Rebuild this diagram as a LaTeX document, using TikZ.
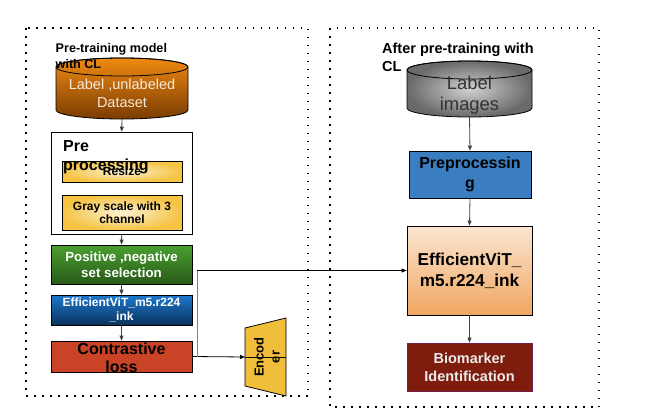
\documentclass[tikz,border=0pt]{standalone}
\usepackage{fontspec}
\setmainfont{Liberation Sans}
\usetikzlibrary{arrows.meta}

\definecolor{orangetop}{HTML}{EF8A12}
\definecolor{orangebot}{HTML}{7A3C02}
\definecolor{creamin}{HTML}{FCF1D2}
\definecolor{creamout}{HTML}{F5C445}
\definecolor{greentop}{HTML}{4A9F30}
\definecolor{greenbot}{HTML}{285A19}
\definecolor{bluetop}{HTML}{1C77CE}
\definecolor{bluebot}{HTML}{0A335C}
\definecolor{lossred}{HTML}{CA4327}
\definecolor{encyellow}{HTML}{F0BE3B}
\definecolor{prepblue}{HTML}{3B7DC1}
\definecolor{peachtop}{HTML}{FBE6D2}
\definecolor{peachbot}{HTML}{F0A660}
\definecolor{biored}{HTML}{7E1C0D}
\definecolor{bioedge}{HTML}{74204A}
\definecolor{cyltext}{HTML}{F6EADB}
\definecolor{cylin}{HTML}{D2D2D2}
\definecolor{cylout}{HTML}{6A6A6A}

\begin{document}
\begin{tikzpicture}[x=1pt, y=-1pt,
    box/.style={rectangle, draw=black, line width=0.8pt, inner sep=0pt, align=center},
    cyltxt/.style={inner sep=0pt, align=center},
    arr/.style={-{Triangle[length=5pt,width=4pt]}, draw=black!75, line width=0.8pt},
    dotframe/.style={line width=1.5pt, dash pattern=on 1.5pt off 6.5pt},
    title/.style 2 args={anchor=north west, inner sep=0pt, align=left, font=\fontsize{#1}{#2}\selectfont\bfseries}]
    \useasboundingbox (0,0) rectangle (649,413);

    % Frames
    \draw[dotframe] (26,28) rectangle (308,396);
    \draw[dotframe] (330,28) rectangle (599,407);

    % Pre-training side
    \draw[line width=0.8pt, top color=orangetop, bottom color=orangebot]
        (56,67) -- (56,110) arc[start angle=180, end angle=0, x radius=66, y radius=9]
        -- (188,67) arc[start angle=0, end angle=-180, x radius=66, y radius=9] -- cycle;
    \draw[line width=0.8pt] (122,67) ellipse[x radius=66, y radius=9];
    \node[cyltxt, minimum height=51, text=cyltext, font=\fontsize{14.5}{17.5}\selectfont]
        (data) at (122,93.5) {Label ,unlabeled\\Dataset};
    \node[title={12.6}{16.5}] (lefttitle) at (55.5,43) {Pre-training model\\with CL};

    \node[box, minimum width=140.7, minimum height=102] (pre) at (121.7,183) {};
    \node[box, minimum width=120, minimum height=21, shading=radial, inner color=creamin, outer color=creamout,
          font=\fontsize{12}{14}\selectfont\bfseries] (resize) at (122,171.5) {Resize};
    \node[box, minimum width=120, minimum height=35, shading=radial, inner color=creamin, outer color=creamout,
          font=\fontsize{12}{13.3}\selectfont\bfseries] (gray) at (122,212.5) {Gray scale with 3\\channel};
    \node[anchor=north west, inner sep=0pt, align=left,
          font=\fontsize{16}{18.3}\selectfont\bfseries] (pretext) at (63,140.5) {Pre\\processing};

    \node[box, minimum width=141, minimum height=39, top color=greentop, bottom color=greenbot, text=white,
          font=\fontsize{13.3}{16}\selectfont\bfseries] (pos) at (121.5,264.5) {Positive ,negative\\set selection};
    \node[box, minimum width=141, minimum height=30, top color=bluetop, bottom color=bluebot, text=white,
          font=\fontsize{12}{14.3}\selectfont\bfseries] (vit) at (121.5,310) {EfficientViT\_m5.r224\\\_ink};
    \node[box, minimum width=141, minimum height=31, fill=lossred] (loss) at (121.5,356.5) {};
    \node[inner sep=0pt, align=center, font=\fontsize{16}{18.3}\selectfont\bfseries] (losstext) at (121.5,358) {Contrastive\\loss};

    % Encoder
    \coordinate (encL) at (245,357);
    \coordinate (encR) at (286,357);
    \filldraw[fill=encyellow, draw=black, line width=0.8pt] (245,328) -- (286,318) -- (286,396) -- (245,386) -- cycle;
    \node[rotate=90, inner sep=0pt, align=center, font=\fontsize{13}{16}\selectfont\bfseries] (enc) at (267,357) {Encod\\er};

    % After pre-training side
    \draw[line width=0.8pt, shading=radial, inner color=cylin, outer color=cylout]
        (407,70) -- (407,108) arc[start angle=180, end angle=0, x radius=62.5, y radius=9]
        -- (532,70) arc[start angle=0, end angle=-180, x radius=62.5, y radius=9] -- cycle;
    \draw[line width=0.8pt] (469.5,70) ellipse[x radius=62.5, y radius=9];
    \node[cyltxt, minimum height=43.2, text=black!80, font=\fontsize{18.4}{21.5}\selectfont]
        (imgs) at (469.5,95.4) {Label\\images};
    \node[title={14.5}{18.3}] (righttitle) at (382,42.5) {After pre-training with\\CL};

    \node[box, minimum width=122, minimum height=47, fill=prepblue,
          font=\fontsize{16}{20}\selectfont\bfseries] (prep) at (470,174.5) {Preprocessin\\g};
    \node[box, minimum width=125, minimum height=89, top color=peachtop, bottom color=peachbot,
          font=\fontsize{17.2}{20.7}\selectfont\bfseries] (eff) at (469.5,270.5) {EfficientViT\_\\m5.r224\_ink};
    \node[box, minimum width=125, minimum height=48, fill=biored, draw=bioedge, text=white!92!black,
          font=\fontsize{14.5}{17.7}\selectfont\bfseries] (bio) at (469.5,367) {Biomarker\\Identification};

    % Connections
    \draw[arr] (data.south) -- (pre.north);
    \draw[arr] (pre.south) -- (pos.north);
    \draw[arr] (pos.south) -- (vit.north);
    \draw[arr] (vit.south) -- (loss.north);
    \draw[arr, draw=black] (loss.east) -- (encL);
    \draw[black, line width=0.8pt] (encL) -- (encR);
    \coordinate (split) at (197,356.5);
    \draw[gray, line width=1pt] (split) -- (split |- eff.west);
    \draw[arr, draw=black] (split |- eff.west) -- (eff.west);
    \draw[arr] (imgs.south) -- (prep.north);
    \draw[arr] (prep.south) -- (eff.north);
    \draw[arr] (eff.south) -- (bio.north);
\end{tikzpicture}
\end{document}
